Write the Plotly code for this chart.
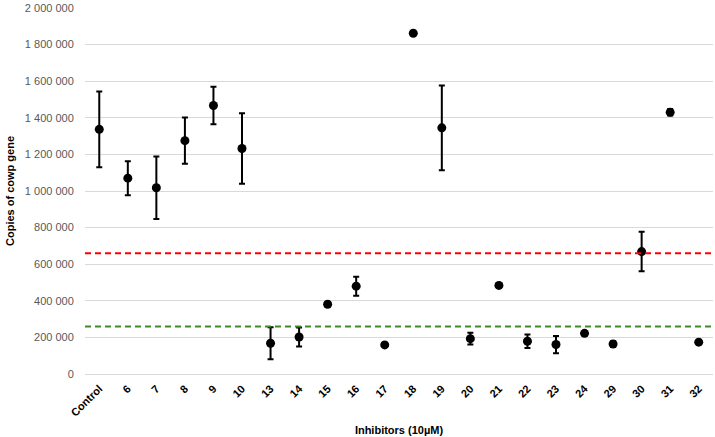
import plotly.graph_objects as go

categories = ["Control", "6", "7", "8", "9", "10", "13", "14", "15", "16", "17",
              "18", "19", "20", "21", "22", "23", "24", "29", "30", "31", "32"]
copies = [1337000, 1070000, 1018000, 1275000, 1467000, 1232000, 168000, 202000,
          381000, 480000, 159000, 1862000, 1345000, 193000, 484000, 179000,
          161000, 222000, 164000, 669000, 1430000, 174000]
errors = [207000, 93000, 171000, 126000, 102000, 193000, 87000, 52000,
          12000, 52000, 6000, 0, 232000, 32000, 6000, 37000,
          47000, 10000, 15000, 108000, 18000, 6000]
y_ticks = [0, 200000, 400000, 600000, 800000, 1000000, 1200000, 1400000,
           1600000, 1800000, 2000000]
red_threshold = 660000
green_threshold = 260000

fig = go.Figure()
fig.add_trace(go.Scatter(
    x=categories, y=copies, mode="markers",
    marker=dict(color="black", size=9),
    error_y=dict(type="data", array=errors, visible=True, color="black",
                 thickness=2, width=3),
    showlegend=False,
))

fig.add_shape(type="line", xref="paper", yref="y", x0=0, x1=1,
              y0=red_threshold, y1=red_threshold,
              line=dict(color="#FF0000", width=2, dash="6px,4px"))
fig.add_shape(type="line", xref="paper", yref="y", x0=0, x1=1,
              y0=green_threshold, y1=green_threshold,
              line=dict(color="#3C8C28", width=2, dash="6px,4px"))

fig.update_layout(
    width=715, height=437,
    margin=dict(l=85, r=2, t=8, b=63, autoexpand=False),
    paper_bgcolor="white", plot_bgcolor="white",
    separators=". ",
    font=dict(family="Liberation Sans, Arial, sans-serif", color="#595959", size=11),
    xaxis=dict(
        type="category", range=[-0.5, len(categories) - 0.5],
        tickangle=-45, showgrid=False, showline=False,
        tickfont=dict(size=11, color="black", weight="bold",
                      family="Liberation Sans, Arial, sans-serif"),
        title=dict(text="<b>Inhibitors (10µM)</b>", font=dict(size=11, color="black"), standoff=8),
        ticks="outside", ticklen=3, tickcolor="rgba(0,0,0,0)",
    ),
    yaxis=dict(
        range=[0, 2000000], tickmode="array", tickvals=y_ticks, tickformat=",",
        showgrid=True, gridcolor="#d9d9d9", gridwidth=1, zeroline=True,
        zerolinecolor="#d9d9d9", zerolinewidth=1,
        ticks="outside", ticklen=8, tickcolor="rgba(0,0,0,0)",
        tickfont=dict(size=11, color="#595959"),
        title=dict(text="<b>Copies of cowp gene</b>", font=dict(size=11, color="black"), standoff=8),
    ),
)

fig.write_html("out.html")
